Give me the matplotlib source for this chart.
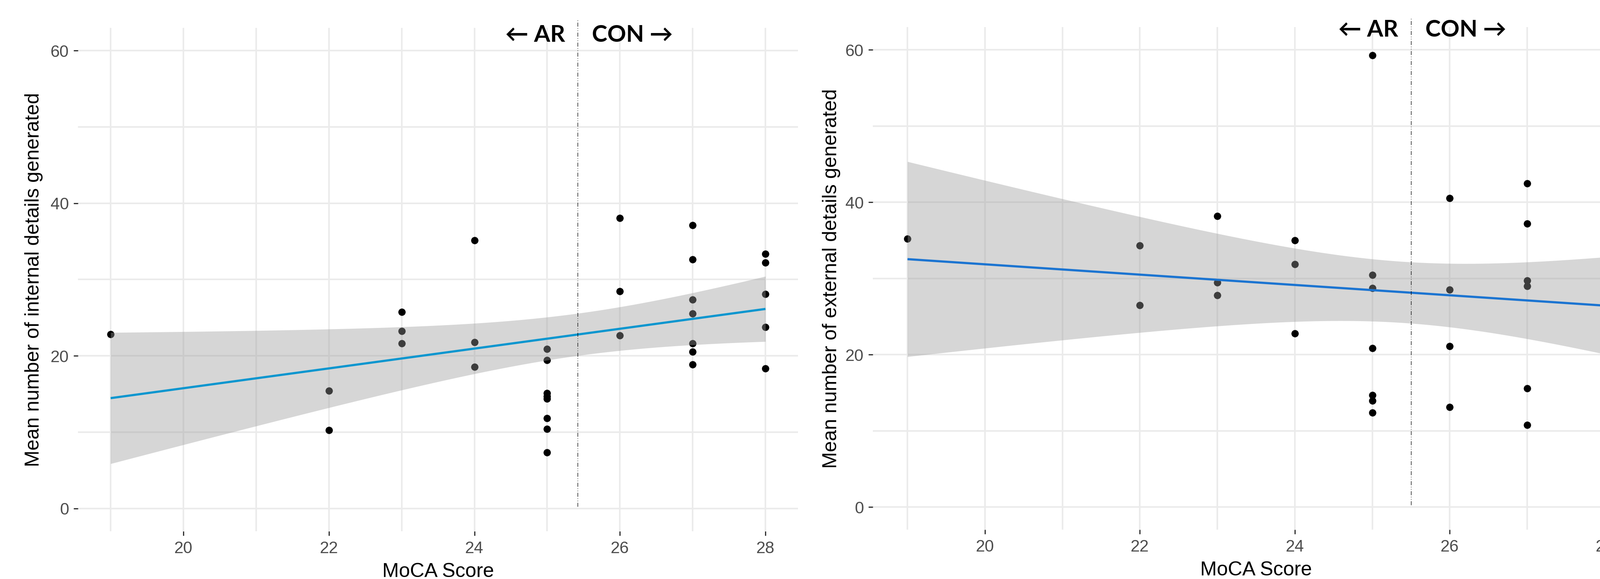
import numpy as np
import matplotlib
matplotlib.use("Agg")
import matplotlib.pyplot as plt
from matplotlib.ticker import MultipleLocator

plt.rcParams['font.family'] = ['Liberation Sans', 'DejaVu Sans']
plt.rcParams['lines.scale_dashes'] = False

# ---------------- data ----------------
# Left panel: internal details
moca_int = [19, 22, 22, 23, 23, 23, 24, 24, 24,
            25, 25, 25, 25, 25, 25, 25, 25,
            26, 26, 26, 27, 27, 27, 27, 27, 27, 27,
            28, 28, 28, 28, 28]
internal = [22.84, 15.44, 10.26, 25.74, 23.23, 21.63, 35.13, 21.77, 18.53,
            20.90, 19.45, 15.10, 14.70, 14.40, 11.84, 10.40, 7.35,
            38.03, 28.45, 22.69, 37.11, 32.61, 27.39, 25.55, 21.63, 20.52, 18.87,
            33.34, 32.23, 28.11, 23.76, 18.34]

# Right panel: external details (points at MoCA 28 lie outside the image)
moca_ext = [19, 22, 22, 23, 23, 23, 24, 24, 24,
            25, 25, 25, 25, 25, 25, 25,
            26, 26, 26, 26, 27, 27, 27, 27, 27, 27]
external = [35.19, 34.31, 26.51, 38.19, 29.47, 27.77, 34.99, 31.84, 22.78,
            59.27, 30.44, 28.74, 20.84, 14.69, 13.96, 12.36,
            40.52, 28.50, 21.08, 13.09, 42.46, 37.17, 29.71, 28.98, 15.56, 10.76]

# Linear smooth and its 95% band, read at integer MoCA scores
fit_x_int = [19, 20, 21, 22, 23, 24, 25, 26, 27, 28]
fit_int = [14.47, 15.73, 16.98, 18.29, 19.79, 21.00, 22.31, 23.56, 24.82, 26.08]
band_lo_int = [5.81, 8.32, 10.74, 13.26, 15.58, 17.66, 18.97, 20.76, 21.39, 21.87]
band_hi_int = [23.08, 23.08, 23.23, 23.47, 23.80, 24.19, 25.11, 26.47, 28.16, 30.34]

fit_x_ext = [19, 20, 21, 22, 23, 24, 25, 26, 27]
fit_ext = [32.47, 31.94, 31.21, 30.53, 29.71, 29.13, 28.50, 27.77, 27.14]
band_lo_ext = [19.68, 20.74, 21.81, 22.92, 23.65, 24.28, 24.48, 23.65, 21.96]
band_hi_ext = [45.22, 42.89, 40.37, 37.95, 35.91, 34.07, 32.38, 31.94, 32.13]

moca_range = [19, 28]
vline_int = 25.42
vline_ext = 25.5
y_labels = ["Mean number of internal details generated",
            "Mean number of external details generated"]
x_label = "MoCA Score"
group_labels = ["\u2190 AR", "CON \u2192"]

# ---------------- drawing ----------------
fig = plt.figure(figsize=(40.22, 14.55), dpi=100)
axL = fig.add_axes([0.04868, 0.0823, 0.4502, 0.8698])
axR = fig.add_axes([0.5454, 0.0849, 0.4793, 0.8684])

GRID = '#EBEBEB'


def band(fx, fy, lo, hi, xs):
    fx = np.asarray(fx, float)
    c = np.polyfit(fx, np.asarray(fy, float), 1)
    hw2 = ((np.asarray(hi, float) - np.asarray(lo, float)) / 2) ** 2
    h = np.polyfit(fx, hw2, 2)
    centre = np.polyval(c, xs)
    hw = np.sqrt(np.clip(np.polyval(h, xs), 0, None))
    return centre, centre - hw, centre + hw


def panel(ax, xs, ys, fx, fy, lo, hi, line_color, vx, vtop, ylab, y_text):
    ax.set_xlim(18.55, 28.45)
    ax.set_ylim(-3, 63)
    for s in ax.spines.values():
        s.set_visible(False)
    ax.xaxis.set_major_locator(MultipleLocator(2))
    ax.xaxis.set_minor_locator(MultipleLocator(1))
    ax.yaxis.set_major_locator(MultipleLocator(20))
    ax.yaxis.set_minor_locator(MultipleLocator(10))
    ax.grid(True, which='both', color=GRID, linewidth=2.9, zorder=0)
    ax.set_axisbelow(True)
    ax.tick_params(which='major', length=8, width=2.2, color='#333333',
                   labelsize=30, labelcolor='#4D4D4D')
    ax.tick_params(axis='x', which='major', pad=9)
    ax.tick_params(axis='y', which='major', pad=8)
    ax.tick_params(which='minor', length=0)

    ax.scatter(xs, ys, s=175, color='black', linewidths=0, zorder=2)
    grid_x = np.linspace(moca_range[0], moca_range[1], 80)
    c, l, h = band(fx, fy, lo, hi, grid_x)
    ax.fill_between(grid_x, l, h, color='#999999', alpha=0.4, linewidth=0, zorder=3)
    ax.plot(grid_x, c, color=line_color, linewidth=4.0, zorder=4, solid_capstyle='butt')

    ax.plot([vx, vx], [0.25, vtop], color='black', linewidth=0.95,
            dashes=(7.2, 2.9, 1.1, 2.9, 1.1, 2.9), clip_on=False, zorder=5)
    ax.annotate(group_labels[0], xy=(vx, y_text), xytext=(-23, 0),
                textcoords='offset points', ha='right', va='baseline',
                fontsize=42, fontweight='bold', family=['Lato', 'DejaVu Sans'],
                annotation_clip=False)
    ax.annotate(group_labels[1], xy=(vx, y_text), xytext=(26, 0),
                textcoords='offset points', ha='left', va='baseline',
                fontsize=42, fontweight='bold', family=['Lato', 'DejaVu Sans'],
                annotation_clip=False)

    ax.set_ylabel(ylab, fontsize=36, color='black')
    ax.set_xlabel(x_label, fontsize=36, color='black')


panel(axL, moca_int, internal, fit_x_int, fit_int, band_lo_int, band_hi_int,
      '#0A96CF', vline_int, 64.1, y_labels[0], 61.15)
panel(axR, moca_ext, external, fit_x_ext, fit_ext, band_lo_ext, band_hi_ext,
      '#1B74D1', vline_ext, 64.3, y_labels[1], 61.74)

axL.yaxis.set_label_coords(-0.0485, 0.5)
axR.yaxis.set_label_coords(-0.0417, 0.5)
axL.xaxis.set_label_coords(0.5, -0.062)
axR.xaxis.set_label_coords(0.5, -0.062)

fig.savefig('out.png', dpi=100, facecolor='white')
